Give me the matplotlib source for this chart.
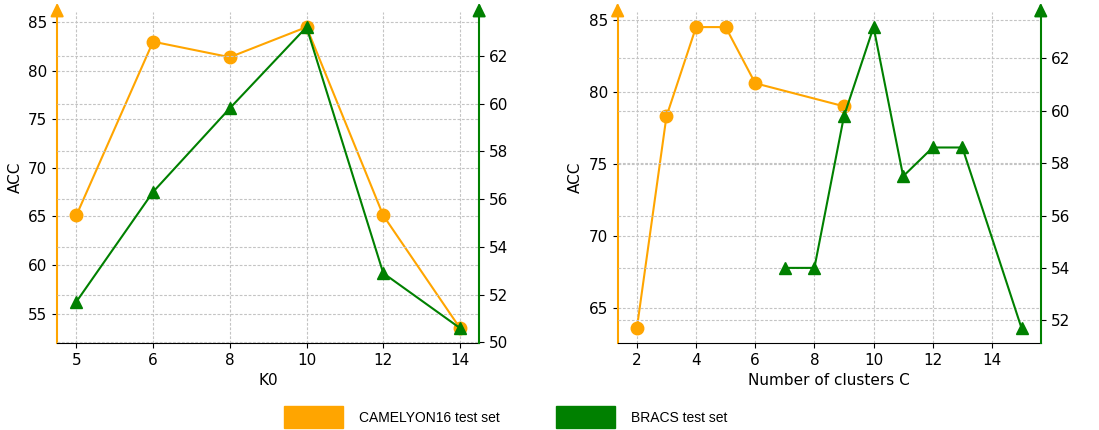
#! /usr/bin/env python3
# Two sensitivity plots (ACC on two datasets), twin y axes

import matplotlib.pyplot as plt
from matplotlib.patches import Patch

ORANGE = 'orange'
GREEN = 'green'

# left panel: K0 (categorical positions)
k0_labels = ['5', '6', '8', '10', '12', '14']
k0_camelyon = [65.1, 83.0, 81.4, 84.5, 65.1, 53.5]
k0_bracs = [51.7, 56.3, 59.8, 63.2, 52.9, 50.6]

# right panel: number of clusters C
c_camelyon_x = [2, 3, 4, 5, 6, 9]
c_camelyon = [63.6, 78.3, 84.5, 84.5, 80.6, 79.0]
c_bracs_x = [7, 8, 9, 10, 11, 12, 13, 15]
c_bracs = [54.0, 54.0, 59.8, 63.2, 57.5, 58.6, 58.6, 51.7]

plt.rcParams['font.size'] = 11


def style_axes(ax, ax2):
    grid_kw = dict(linestyle=(0, (2.5, 1.5)), color='#c4c4c4', linewidth=0.8)
    ax.grid(True, **grid_kw)
    ax2.grid(True, axis='y', **grid_kw)
    ax.set_axisbelow(True)
    for a in (ax, ax2):
        a.spines['top'].set_visible(False)
    ax.spines['right'].set_visible(False)
    ax2.spines['left'].set_visible(False)
    ax2.spines['bottom'].set_visible(False)
    ax.spines['left'].set_color(ORANGE)
    ax.spines['left'].set_linewidth(1.5)
    ax2.spines['right'].set_color(GREEN)
    ax2.spines['right'].set_linewidth(1.5)
    # arrow heads on top of the coloured spines
    ax.annotate('', xy=(0, 1.028), xytext=(0, 0.99), xycoords='axes fraction',
                arrowprops=dict(arrowstyle='-|>,head_length=0.45,head_width=0.22',
                                color=ORANGE, lw=1.5,
                                mutation_scale=18, shrinkA=0, shrinkB=0))
    ax2.annotate('', xy=(1, 1.028), xytext=(1, 0.99), xycoords='axes fraction',
                 arrowprops=dict(arrowstyle='-|>,head_length=0.45,head_width=0.22',
                                 color=GREEN, lw=1.5,
                                 mutation_scale=18, shrinkA=0, shrinkB=0))


fig = plt.figure(figsize=(10.99, 4.30), dpi=100)

ax1 = fig.add_axes([0.052, 0.202, 0.384, 0.770])
ax1b = ax1.twinx()
pos = list(range(len(k0_labels)))
ax1.plot(pos, k0_camelyon, color=ORANGE, marker='o', markersize=9, linewidth=1.5)
ax1b.plot(pos, k0_bracs, color=GREEN, marker='^', markersize=9, linewidth=1.5)
ax1.set_xticks(pos)
ax1.set_xticklabels(k0_labels)
ax1.set_xlabel('K0')
ax1.set_ylabel('ACC')
style_axes(ax1, ax1b)

ax2 = fig.add_axes([0.562, 0.202, 0.385, 0.770])
ax2b = ax2.twinx()
ax2.plot(c_camelyon_x, c_camelyon, color=ORANGE, marker='o', markersize=9, linewidth=1.5)
ax2b.plot(c_bracs_x, c_bracs, color=GREEN, marker='^', markersize=9, linewidth=1.5)
ax2.set_xticks([2, 4, 6, 8, 10, 12, 14])
ax2.set_xlabel('Number of clusters C')
ax2.set_ylabel('ACC')
style_axes(ax2, ax2b)

handles = [Patch(color=ORANGE, label='CAMELYON16 test set'),
           Patch(color=GREEN, label='BRACS test set')]
fig.legend(handles=handles, loc='center', bbox_to_anchor=(0.46, 0.03), ncol=2,
           frameon=False, handlelength=4.3, handleheight=2.0, handletextpad=1.15,
           columnspacing=4.0, prop={'family': 'Liberation Sans', 'size': 10})

fig.savefig('out.png', dpi=100)
